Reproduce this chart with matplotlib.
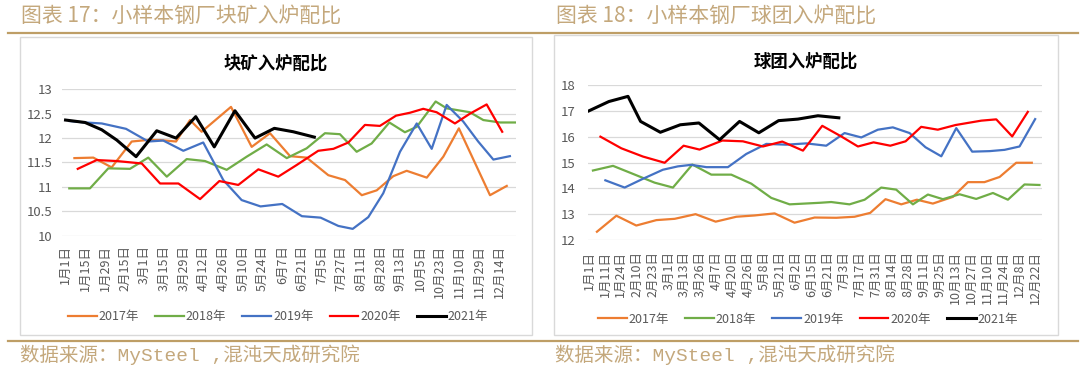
import matplotlib
matplotlib.use('Agg')
import matplotlib.pyplot as plt
from matplotlib.patches import Rectangle
from matplotlib.lines import Line2D

plt.rcParams['font.family'] = ['Noto Sans CJK SC', 'DejaVu Sans']
plt.rcParams['axes.unicode_minus'] = False

# ---- 块矿入炉配比 (图表 17) ----
lump_labels = ['1月1日', '1月15日', '1月29日', '2月15日', '3月1日', '3月15日', '3月29日',
               '4月12日', '4月26日', '5月10日', '5月24日', '6月7日', '6月21日', '7月5日',
               '7月27日', '8月11日', '8月28日', '9月13日', '10月5日', '10月23日',
               '11月10日', '11月29日', '12月14日']

# 横坐标 = 日期标签序号 (从图上读出, 各年取样日期不同)
lump_x_2017 = [0.45, 1.41, 2.34, 3.36, 4.12, 4.8, 5.61, 6.32, 6.91, 8.4, 9.45, 10.38, 11.4,
               12.24, 13.34, 14.19, 15.04, 15.8, 16.64, 17.32, 18.34, 19.18, 19.97, 21.55, 22.4]
lump_2017 = [11.59, 11.6, 11.4, 11.93, 11.96, 11.96, 11.93, 12.37, 12.13, 12.64, 11.82, 12.1, 11.63,
             11.6, 11.24, 11.14, 10.83, 10.93, 11.22, 11.33, 11.19, 11.62, 12.2, 10.83, 11.02]

lump_x_2018 = [0.19, 1.24, 2.17, 3.27, 4.2, 5.14, 6.15, 7.08, 8.18, 9.2, 10.21, 11.23, 12.24,
               13.17, 13.93, 14.78, 15.54, 16.44, 17.23, 17.83, 18.79, 19.35, 20.53, 21.21, 22.06, 22.82]
lump_2018 = [10.97, 10.97, 11.38, 11.37, 11.6, 11.21, 11.57, 11.53, 11.35, 11.62, 11.87, 11.59, 11.79,
             12.1, 12.08, 11.72, 11.89, 12.32, 12.12, 12.23, 12.75, 12.61, 12.53, 12.37, 12.32, 12.32]

lump_x_2019 = [0.2, 0.99, 1.84, 3.07, 4.2, 4.96, 5.98, 6.99, 8.01, 8.94, 9.9, 11.0, 12.0,
               12.95, 13.85, 14.58, 15.37, 16.13, 16.98, 17.83, 18.59, 19.35, 20.19, 20.95, 21.72, 22.56]
lump_2019 = [12.35, 12.32, 12.3, 12.19, 11.93, 11.95, 11.74, 11.91, 11.14, 10.73, 10.6, 10.65, 10.4,
             10.37, 10.2, 10.14, 10.38, 10.87, 11.72, 12.3, 11.78, 12.68, 12.34, 11.93, 11.56, 11.63]

lump_x_2020 = [0.62, 1.58, 2.6, 3.87, 4.8, 5.73, 6.83, 7.81, 8.77, 9.79, 10.8, 11.74, 12.83,
               13.6, 14.36, 15.2, 15.96, 16.78, 17.49, 18.16, 18.84, 19.77, 20.53, 21.38, 22.17]
lump_2020 = [11.37, 11.55, 11.53, 11.48, 11.07, 11.07, 10.75, 11.12, 11.04, 11.36, 11.21, 11.45, 11.74,
             11.78, 11.91, 12.27, 12.25, 12.46, 12.52, 12.6, 12.53, 12.3, 12.5, 12.69, 12.13]

lump_x_2021 = [0, 0.99, 1.84, 2.6, 3.58, 4.63, 5.61, 6.61, 7.55, 8.6, 9.62, 10.6, 11.56, 12.63]
lump_2021 = [12.37, 12.32, 12.17, 11.96, 11.62, 12.15, 12.0, 12.44, 11.82, 12.56, 12.0, 12.2, 12.13, 12.02]

# ---- 球团入炉配比 (图表 18) ----
pellet_labels = ['1月1日', '1月11日', '1月24日', '2月10日', '2月23日', '3月1日', '3月13日',
                 '3月26日', '4月7日', '4月20日', '4月26日', '5月8日', '5月21日', '6月2日',
                 '6月15日', '6月21日', '7月3日', '7月17日', '7月31日', '8月14日', '8月28日',
                 '9月11日', '9月25日', '10月13日', '10月27日', '11月10日', '11月24日',
                 '12月8日', '12月22日']

pellet_x_2017 = [0.5, 1.72, 2.97, 4.23, 5.38, 6.69, 7.95, 9.25, 10.4, 11.65, 12.9, 14.16, 15.52,
                 16.67, 17.65, 18.61, 19.6, 20.58, 21.58, 22.84, 23.78, 24.82, 25.77, 26.81, 27.79]
pellet_2017 = [12.32, 12.94, 12.56, 12.77, 12.82, 13.0, 12.71, 12.9, 12.95, 13.03, 12.67, 12.87, 12.86,
               12.9, 13.05, 13.58, 13.38, 13.56, 13.41, 13.67, 14.24, 14.24, 14.44, 14.99, 14.99]

pellet_x_2018 = [0.25, 1.51, 2.76, 4.12, 5.27, 6.49, 7.68, 8.93, 10.19, 11.44, 12.59, 14.47, 15.2,
                 16.35, 17.3, 18.34, 19.28, 20.33, 21.27, 22.21, 23.26, 24.3, 25.35, 26.29, 27.33, 28.27]
pellet_2018 = [14.69, 14.87, 14.56, 14.22, 14.03, 14.92, 14.53, 14.53, 14.18, 13.63, 13.38, 13.44, 13.47,
               13.38, 13.56, 14.03, 13.95, 13.38, 13.76, 13.58, 13.77, 13.59, 13.82, 13.56, 14.15, 14.13]

pellet_x_2019 = [1.03, 2.24, 3.39, 4.64, 5.58, 6.42, 7.37, 8.72, 9.87, 11.13, 12.38, 13.64, 14.89,
                 16.04, 17.09, 18.13, 19.07, 20.12, 21.12, 22.11, 23.05, 24.05, 25.14, 26.08, 27.02, 28.0]
pellet_2019 = [14.31, 14.03, 14.37, 14.72, 14.85, 14.91, 14.82, 14.82, 15.33, 15.72, 15.69, 15.74, 15.65,
               16.14, 15.97, 16.27, 16.36, 16.14, 15.59, 15.24, 16.33, 15.42, 15.44, 15.49, 15.62, 16.68]

pellet_x_2020 = [0.72, 2.03, 3.39, 4.75, 5.94, 6.94, 8.37, 9.66, 10.92, 12.13, 13.43, 14.64, 15.83,
                 16.88, 17.86, 18.91, 19.87, 20.85, 21.89, 23.0, 24.62, 25.56, 26.56, 27.54]
pellet_2020 = [16.0, 15.55, 15.23, 14.99, 15.65, 15.5, 15.85, 15.82, 15.62, 15.81, 15.46, 16.42, 16.01,
               15.62, 15.78, 15.65, 15.82, 16.38, 16.27, 16.45, 16.62, 16.67, 16.01, 16.96]

pellet_x_2021 = [0, 1.25, 2.45, 3.24, 4.48, 5.73, 6.9, 8.2, 9.45, 10.66, 11.9, 13.11, 14.37, 15.68]
pellet_2021 = [17.0, 17.36, 17.56, 16.59, 16.17, 16.46, 16.53, 15.88, 16.59, 16.15, 16.62, 16.68, 16.81, 16.73]

years = ['2017年', '2018年', '2019年', '2020年', '2021年']
colors = ['#ED7D31', '#70AD47', '#4472C4', '#FF0000', '#000000']
widths = [1.6, 1.6, 1.6, 1.6, 2.2]

gold = '#BE9E66'
gold_text = '#C4A87C'
gray = '#595959'

fig = plt.figure(figsize=(10.8, 3.68), dpi=100)

# 页眉、分割线、边框
fig.add_artist(Line2D([8 / 1080, 1078 / 1080], [1 - 32.5 / 368] * 2, color=gold, lw=1.6))
fig.add_artist(Line2D([8 / 1080, 1078 / 1080], [1 - 341 / 368] * 2, color=gold, lw=1.6))
fig.add_artist(Rectangle((20 / 1080, 1 - 335 / 368), 512 / 1080, 298 / 368,
                         fill=False, ec='#D9D9D9', lw=1.0))
fig.add_artist(Rectangle((554 / 1080, 1 - 335 / 368), 504 / 1080, 300 / 368,
                         fill=False, ec='#D9D9D9', lw=1.0))

fig.text(21 / 1080, 1 - 15.5 / 368, '图表 17：小样本钢厂块矿入炉配比', color=gold_text,
         fontsize=15, va='center', ha='left')
fig.text(556 / 1080, 1 - 15.5 / 368, '图表 18：小样本钢厂球团入炉配比', color=gold_text,
         fontsize=15, va='center', ha='left')
src_font = ['Liberation Mono', 'Noto Sans CJK SC']
fig.text(20 / 1080, 1 - 355 / 368, '数据来源：MySteel ,混沌天成研究院', color=gold_text,
         fontsize=14, va='center', ha='left', family=src_font)
fig.text(555 / 1080, 1 - 355 / 368, '数据来源：MySteel ,混沌天成研究院', color=gold_text,
         fontsize=14, va='center', ha='left', family=src_font)


def style_axes(ax, labels, ylim, yticks, ylabels, ypad, xpad):
    ax.set_xticks(range(len(labels)))
    ax.set_xticklabels(labels, rotation=90, fontsize=9, color=gray)
    ax.set_ylim(*ylim)
    ax.set_yticks(yticks)
    ax.set_yticklabels(ylabels, fontsize=9.5, color=gray)
    ax.tick_params(axis='both', length=0)
    ax.tick_params(axis='y', pad=ypad)
    ax.tick_params(axis='x', pad=xpad)
    ax.grid(axis='y', color='#D9D9D9', lw=0.9)
    ax.set_axisbelow(True)
    for s in ax.spines.values():
        s.set_visible(False)


# 左图
ax1 = fig.add_axes([62 / 1080, 1 - 235.7 / 368, 454 / 1080, 146.4 / 368])
lump_xs = [lump_x_2017, lump_x_2018, lump_x_2019, lump_x_2020, lump_x_2021]
lump_ys = [lump_2017, lump_2018, lump_2019, lump_2020, lump_2021]
for xs, ys, c, w, name in zip(lump_xs, lump_ys, colors, widths, years):
    ax1.plot(xs, ys, color=c, lw=w, label=name)
ax1.set_xlim(-0.18, 22.87)
style_axes(ax1, lump_labels, (10, 13), [10, 10.5, 11, 11.5, 12, 12.5, 13],
           ['10', '10.5', '11', '11.5', '12', '12.5', '13'], 7, 7)
fig.text(276 / 1080, 1 - 63.8 / 368, '块矿入炉配比', fontsize=12.5, fontweight='bold',
         ha='center', va='center')

# 右图
ax2 = fig.add_axes([588 / 1080, 1 - 240 / 368, 454 / 1080, 155 / 368])
pellet_xs = [pellet_x_2017, pellet_x_2018, pellet_x_2019, pellet_x_2020, pellet_x_2021]
pellet_ys = [pellet_2017, pellet_2018, pellet_2019, pellet_2020, pellet_2021]
for xs, ys, c, w, name in zip(pellet_xs, pellet_ys, colors, widths, years):
    ax2.plot(xs, ys, color=c, lw=w, label=name)
ax2.set_xlim(-0.06, 28.43)
style_axes(ax2, pellet_labels, (12, 18), list(range(12, 19)),
           [str(v) for v in range(12, 19)], 9, 8)
fig.text(806 / 1080, 1 - 61.4 / 368, '球团入炉配比', fontsize=12.5, fontweight='bold',
         ha='center', va='center')

# 图例
for ax, cx, cy in [(ax1, 278 / 1080, 1 - 316.5 / 368), (ax2, 808 / 1080, 1 - 319 / 368)]:
    h, l = ax.get_legend_handles_labels()
    leg = fig.legend(h, l, loc='center', bbox_to_anchor=(cx, cy), ncol=5, frameon=False,
                     fontsize=9, handlelength=2.3, handletextpad=0.15, columnspacing=1.3)
    for t in leg.get_texts():
        t.set_color(gray)

fig.savefig('out.png', dpi=100)
